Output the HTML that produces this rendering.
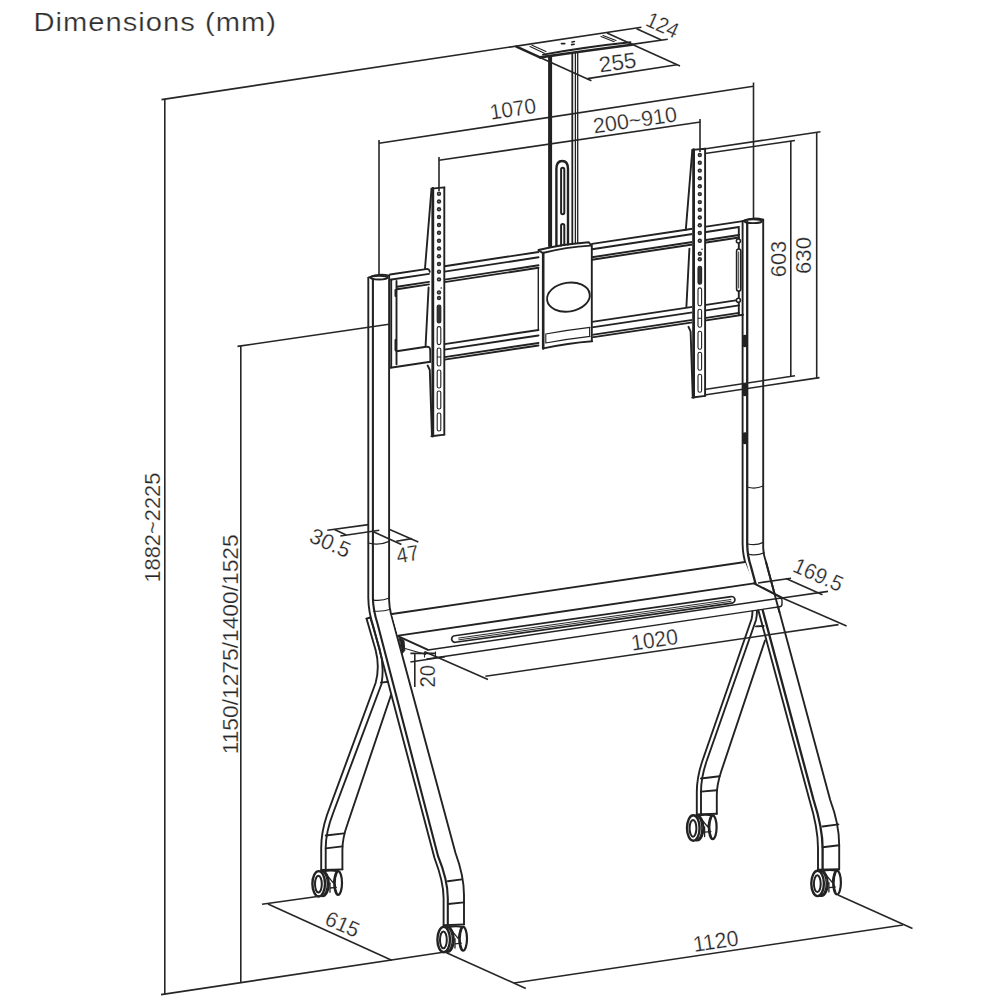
<!DOCTYPE html>
<html><head><meta charset="utf-8"><title>Dimensions</title>
<style>
html,body{margin:0;padding:0;background:#fff;}
body{width:1000px;height:1000px;overflow:hidden;position:relative;}
svg{position:absolute;left:0;top:0;display:block;}
text{font-family:"Liberation Sans",sans-serif;fill:#262626;stroke:#fff;stroke-width:0.25px;}
</style></head><body>
<svg width="1000" height="1000" viewBox="0 0 1000 1000">
<defs>
<g id="wheel">
  <ellipse cx="19.4" cy="-0.8" rx="3.9" ry="11.9" fill="#fff" stroke="#222" stroke-width="2.2"/>
  <path d="M18.6,-11.8 Q14.2,-0.8 18.6,10.4" fill="none" stroke="#222" stroke-width="1.3"/>
  <path d="M4.5,-12.2 Q11,-14.2 19.2,-12.6" fill="none" stroke="#222" stroke-width="2"/>
  <path d="M7.2,-10 L14.4,-1.2 L17.6,-10.6 M11.4,4.2 L17.6,3.6 M11.3,-1 V8.5" fill="none" stroke="#222" stroke-width="1.3"/>
  <ellipse cx="3.9" cy="0" rx="6.2" ry="12.4" fill="#fff" stroke="#222" stroke-width="2.2"/>
  <ellipse cx="2.5" cy="0" rx="6.2" ry="12.5" fill="#fff" stroke="#222" stroke-width="1.5"/>
  <ellipse cx="0" cy="0" rx="6.3" ry="12.7" fill="#fff" stroke="#222" stroke-width="2.4"/>
  <ellipse cx="-0.3" cy="0.3" rx="3.4" ry="8.4" fill="none" stroke="#222" stroke-width="2"/>
</g>
</defs>

<!-- ===== TITLE ===== -->
<text transform="scale(1.1,1)" x="30.4" y="30.6" font-size="26.5" textLength="220.5" lengthAdjust="spacing" style="fill:#2e2e2e;stroke-width:0.25px">Dimensions (mm)</text>

<!-- ===== STRUCTURE ===== -->
<g id="structure" fill="none" stroke="#222" stroke-width="1.9" stroke-linejoin="round" stroke-linecap="round">
  <!-- back legs -->
  <g id="backlegs">
    <path d="M366.5,618.6 L375.6,650 Q380,667 375.6,683 L327,815 Q321.2,832 321.2,848 V870"/>
    <path d="M370.3,617.5 L379.6,649 Q384.5,666 381.5,684 L333.5,812 Q325.7,832 325.7,848 V870"/>
    <path d="M366.5,618.6 L370.3,617.5"/>
    <path d="M381,682.6 L388,681.7"/>
    <path d="M391,695 L347.5,824 Q342.4,838 342.4,850 V869.4"/>
    <path d="M321.2,870 L342.4,869.4 M325.7,835.5 L344,833.4 M325.7,848.4 L342.4,846.4"/>
    <path d="M752.4,610.8 Q752.6,614.5 751.6,619 L702,762 Q696.8,778 696.8,792 V814.4"/>
    <path d="M756.9,610.8 Q757.1,615 756,620 L706.3,762 Q701,778 701,792 V814.4"/>
    <path d="M765,640.5 L721,772 Q716.8,785 716.8,795 V813.8"/>
    <path d="M696.8,814.4 L716.8,813.8 M701,778.5 L719.6,776.2 M701,791.6 L716.8,790.2 M756,626.4 L763.6,626"/>
  </g>
  <!-- pole -->
  <g id="pole">
    <path d="M550.1,56.5 V246" stroke-width="4"/>
    <path d="M572.3,50 V244" stroke-width="1.8"/><path d="M575.4,49.5 V244 M577.7,49 V243.5" stroke-width="1.3"/>
    <path d="M556.4,246 V169 Q556.4,161 562.2,161 Q568,161 568,169 V245" stroke-width="2.4"/>
    <rect x="561.1" y="167.8" width="3.2" height="46.4" rx="1.6" fill="#fff" stroke-width="2"/>
    <path d="M561.1,246 V225.6 Q561.1,224 562.7,224 Q564.3,224 564.3,225.6 V246" stroke-width="2" fill="#fff"/>
  </g>
  <!-- ceiling plate -->
  <g id="plate">
    <path d="M516.4,46.6 L607,33 L631.8,44.8 Q588,50.5 540,57.4 Z" fill="#fff" stroke="none"/>
    <path d="M516.4,46.6 L540,57.4" stroke-width="2.6"/>
    <path d="M540,57.4 Q588,50.5 631.8,44.8" stroke-width="2.6"/>
    <path d="M543,54.6 Q588,46.5 630.5,42.2"/>
    <path d="M530,46.4 L544.4,53.2 M532,45.2 L546,51.6" stroke-width="1.1"/>
    <path d="M601,36.4 L614.2,41.8 M603,35.4 L616,40.6" stroke-width="1.1"/>
    <path d="M561.4,43.6 H564.8 M572,42 L574.4,41.5 M571.6,44.6 L574.2,44.2" stroke-width="1.6"/>
  </g>
  <!-- rails -->
  <g id="rails">
    <path d="M390.0,274.5 L426,269.1 Q429.4,268.6 429.8,271.8 M444.5,266.3 L538.5,252.0 M592.0,243.9 L692.5,228.7 M704.5,226.9 L743.0,221.1"/>
    <path d="M390.0,279.8 L429.0,273.9 M444.5,271.6 L538.5,257.3 M592.0,249.2 L692.5,234.0 M704.5,232.2 L739.0,227.0"/>
    <path d="M397.0,286.8 L429.0,281.9 M444.5,279.6 L538.5,265.3 M592.0,257.2 L692.5,242.0 M704.5,240.2 L739.0,235.0"/>
    <path d="M397.0,289.3 L429.0,284.4 M444.5,282.1 L538.5,267.8 M592.0,259.7 L692.5,244.5 M704.5,242.7 L739.0,237.5"/>
    <path d="M396.5,351.3 L426.2,346.8 Q430,346.2 430.2,350.1 L430.4,361.7 M444.5,344.1 L538.5,330.0 M592.0,321.9 L692.5,306.9 M704.5,305.1 L739.0,299.9"/>
    <path d="M444.5,349.6 L538.5,335.5 M592.0,327.4 L692.5,312.4 M704.5,310.6 L739.0,305.4"/>
    <path d="M444.5,357.1 L538.5,343.0 M592.0,334.9 L692.5,319.9 M704.5,318.1 L739.0,312.9"/>
    <path d="M390.5,367.7 L430.4,361.7 M444.5,359.6 L538.5,345.5 M592.0,337.4 L692.5,322.4 M704.5,320.6 L743.0,314.8"/>
    <!-- end plates -->
    <path d="M391.2,279.8 V367.2 M396.5,281 V364.2"/>
    <path d="M395.4,290 V296 M395.4,340 V350" stroke-width="1.8"/>
    <path d="M738.8,228.5 V314.5"/>
    <rect x="736.6" y="249" width="4.2" height="42" rx="2.1" fill="#fff" stroke-width="1.6"/><path d="M738.7,252 V288" stroke-width="0.9"/>
    <circle cx="738.4" cy="241" r="2" fill="#fff" stroke-width="1.6"/>
    <circle cx="738.4" cy="300.3" r="2" fill="#fff" stroke-width="1.6"/>
    <path d="M538.3,268.5 V330.2" stroke-width="1.4"/>
  </g>
  <!-- brackets -->
<g id="bracket">
  <path d="M431.5,188.6 L444.5,187.4 L444.5,434.6 L431.2,436.2 Z" fill="#fff" stroke="none"/>
  <path d="M432.8,188.4 V436" stroke-width="2.8"/>
  <path d="M444.3,187.4 V434.8 M431.5,188.6 L444.5,187.4 M431.4,436.2 L444.5,434.6"/>
  <g fill="#2a2a2a" stroke="none">
    <circle cx="439" cy="193.7" r="2.2"/>
    <circle cx="439" cy="201.5" r="2.2"/>
    <circle cx="439" cy="209.3" r="2.2"/>
    <circle cx="439" cy="217.0" r="2.2"/>
    <circle cx="439" cy="225.0" r="2.2"/>
    <circle cx="439" cy="232.8" r="2.2"/>
    <circle cx="439" cy="240.8" r="2.2"/>
    <circle cx="439" cy="248.5" r="2.2"/>
    <circle cx="439" cy="256.2" r="2.2"/>
    <circle cx="439" cy="264.0" r="2.2"/>
    <circle cx="439" cy="271.7" r="2.2"/>
    <circle cx="439" cy="279.4" r="2.2"/>
    <circle cx="439" cy="292.4" r="2.2"/>
    <circle cx="439" cy="298.0" r="2.2"/>
    <circle cx="441.2" cy="288" r="0.8"/>
  </g>
  <g fill="#fff" stroke="none" opacity="0.7"><circle cx="439" cy="193.7" r="0.6"/><circle cx="439" cy="201.5" r="0.6"/><circle cx="439" cy="209.3" r="0.6"/><circle cx="439" cy="217.0" r="0.6"/><circle cx="439" cy="225.0" r="0.6"/><circle cx="439" cy="232.8" r="0.6"/><circle cx="439" cy="240.8" r="0.6"/><circle cx="439" cy="248.5" r="0.6"/><circle cx="439" cy="256.2" r="0.6"/><circle cx="439" cy="264.0" r="0.6"/><circle cx="439" cy="271.7" r="0.6"/><circle cx="439" cy="279.4" r="0.6"/><circle cx="439" cy="292.4" r="0.6"/><circle cx="439" cy="298.0" r="0.6"/></g>
  <g stroke="#222" stroke-width="1.1">
    <rect x="437.2" y="305.0" width="3.6" height="18.0" rx="1.8" fill="#333"/>
    <rect x="437.2" y="326.6" width="3.6" height="18.0" rx="1.8" fill="#fff"/>
    <rect x="437.2" y="348.0" width="3.6" height="18.0" rx="1.8" fill="#fff"/>
    <rect x="437.2" y="370.0" width="3.6" height="18.0" rx="1.8" fill="#fff"/>
    <rect x="437.2" y="391.0" width="3.6" height="18.0" rx="1.8" fill="#fff"/>
    <rect x="437.2" y="413.0" width="3.6" height="18.0" rx="1.8" fill="#fff"/>
    <path d="M437.4,357 H440.6"/>
  </g>
  <path d="M431.5,189 L425,268.5 M428.6,287.5 L425.6,345.5 M427.7,365.5 L429.8,370 L431.9,434.5"/>
</g>
  <use href="#bracket" transform="translate(260.8,-38.7)"/>
  <!-- clamp -->
  <g id="clamp">
    <path d="M538.4,250 L588.8,242.2 L591,243.5 L592.4,341.2 Q568,343 543.2,348.4 L542.4,253.5 Z" fill="#fff" stroke="none"/>
    <path d="M538.4,250 Q563,244 588.8,242.2 L590.8,245 M538.4,250 L542.6,253 Q566,247 590.6,245.6"/>
    <path d="M543.2,253 V348.4" stroke-width="2.6"/>
    <path d="M591.8,244.8 V341.2 M543.2,348.4 Q568,343 592.2,341.2"/>
    <path d="M545.6,334 Q568,330 590,327.4 M545.6,343 Q568,339 590,336.4 M545.8,334 V343 M589.6,327.6 V336.4" stroke-width="1.1"/>
    <ellipse cx="568.4" cy="297.1" rx="21.5" ry="14.4" transform="rotate(-9 568.4 297.1)"/>
  </g>
  <!-- uprights + front legs -->
  <g id="uprights">
    <path d="M368.3,277.6 V598 Q368.5,612 373.2,626 L434.5,858 Q443.6,882 443.6,898 V925.2"/>
    <path d="M372.9,279.5 V598 Q373.1,610 377.6,624 L438,856 Q447.8,880 447.8,898 V925" stroke-width="2.1"/>
    <path d="M389.1,275.6 V600 Q389.3,607 390.8,613 L455.5,853 Q464,876 464,895 V924.5"/>
    <path d="M368.6,277.6 Q378,273 389.3,275.6"/>
    <ellipse cx="379" cy="277.6" rx="8.6" ry="1.9"/>
    <path d="M443.6,925.2 L464,924.4 M447.8,881.2 L461.8,879.4 M448.2,904 L464,902.4"/>
    <path d="M368.3,543 Q379,546 389.1,541.4 M372.4,599.8 Q381,601.5 389.3,598 M373.4,611 Q382,612 390.6,609.2" stroke-width="1.2"/>

    <path d="M742.6,221.2 V544 Q742.8,556 746.4,566 L809.5,800 Q818,828 818,848 V869.6"/>
    <path d="M747.2,222.2 V544 Q747.4,556 750.8,566 L813.6,800 Q822.6,828 822.6,848 V869.4" stroke-width="2.3"/>
    <path d="M763.2,219.6 V548 Q763.4,555 766,562 L830.2,800 Q839.2,824 839.2,845 V869.2"/>
    <path d="M742.6,221.2 Q753,216.5 763.2,219.6"/>
    <ellipse cx="753.2" cy="221.2" rx="8.8" ry="1.9"/>
    <path d="M818,869.6 L839.2,869.2 M822.6,826.5 L838.4,824.4 M822.6,847.2 L839.2,845.2"/>
    <path d="M747.2,487 Q755,489.5 763.2,486 M747.8,544 Q756,546 763.3,542.4 M749.6,554.4 Q757,556 764.2,552.8" stroke-width="1.2"/>
    <path d="M745,337.5 V344.5 M745,386 V393.5 M745,435 V441.5" stroke-width="5.5" stroke-linecap="round"/>
  </g>
  <!-- shelf -->
  <g id="shelf">
    <path d="M392,614 L745,562 L754,584 L781.8,597.8 L782,606 L426,658.2 L424.8,651.6 L398.4,637.2 Z" fill="#fff" stroke="none"/>
    <path d="M392,614 L745,562"/>
    <path d="M398.4,635.6 L754,583.4"/>
    <path d="M398.4,636.4 L427.5,649.6 M754,583.4 L781.8,597.8" stroke-width="2.1"/><path d="M399.5,638 L404,640.5 L404.8,650.5 L402.2,653.5 Z" fill="#222" stroke-width="1"/>
    <path d="M428,650 L779.6,598.2 Q782,598 782,600.5 V604 Q782,606.6 779.6,606.8 L427,659" stroke-width="1.4"/>
    <rect x="-143" y="-3.3" width="286" height="6.6" rx="3.3" transform="translate(593.3,619.4) rotate(-8.06)" fill="#fff" stroke-width="1.7"/>
    <path d="M-136,-0.4 H139 M-136,1.4 H139" transform="translate(593.3,619.4) rotate(-8.06)" stroke-width="0.9"/>
    <path d="M766,562 L779.4,612"/>
  </g>
  <!-- wheels -->
  <use href="#wheel" transform="translate(318.7,883.8)"/>
  <use href="#wheel" transform="translate(443.7,939.6)"/>
  <use href="#wheel" transform="translate(693.3,828)"/>
  <use href="#wheel" transform="translate(817.6,883.4)"/>
</g>

<!-- ===== DIMENSION LINES ===== -->
<g id="dims" fill="none" stroke="#262626" stroke-width="1.6" stroke-linecap="butt">
  <path d="M161.5,99.6 L641.4,27.2"/>
  <path d="M164.8,99 V994.8"/>
  <path d="M161,994.6 L444.8,952"/>
  <path d="M240.8,346 V982.6"/>
  <path d="M237.5,346.4 L389,324.2"/>
  <!-- 1070 -->
  <path d="M379,143.3 L753.5,86.3"/>
  <path d="M379,140 V276"/>
  <path d="M753.5,82.5 V219"/>
  <!-- 200~910 -->
  <path d="M439,160.2 L700.5,122"/>
  <path d="M439,157 V191"/>
  <path d="M700,119 V152"/>
  <!-- 630 -->
  <path d="M704,149 L820.5,131.8"/>
  <path d="M816.7,132 V378.5"/>
  <path d="M704.5,395 L819.5,377.6"/>
  <!-- 603 -->
  <path d="M705,153.5 L795,140.5"/>
  <path d="M790.8,140.8 V376"/>
  <path d="M704.5,389.5 L795,375.8"/>
  <!-- 124 -->
  <path d="M636.6,28.8 L661.4,40"/>
  <path d="M631.8,44.4 L667.8,39.2"/>
  <!-- 255 -->
  <path d="M540,57.4 L591.4,80.8"/>
  <path d="M607,33 L680,66"/>
  <path d="M587.5,78.6 L677,64.8"/>
  <!-- 30.5 / 47 -->
  <path d="M327.3,530.2 L368.5,524.6"/>
  <path d="M340.3,536 L379.3,530.2"/>
  <path d="M334.5,529.5 L346.2,535"/>
  <path d="M372.8,531.5 L401.4,544.5"/>
  <path d="M389.7,529.5 L418.3,541.9"/>
  <path d="M396.2,541.2 L411.8,538.6"/>
  <!-- 169.5 -->
  <path d="M758,583 L791,578.2"/>
  <path d="M782,598 L828,591.4"/>
  <path d="M786,578.6 L822.5,594.8"/>
  <!-- 1020 -->
  <path d="M424.8,651.8 L488,679.4"/>
  <path d="M781.8,597.8 L846.6,626"/>
  <path d="M485.4,676.3 L838.5,624.6"/>
  <!-- 20 -->
  <path d="M410.4,653.4 H436 M410.4,662 L445,656.8 M414.8,653 V687"/><path d="M424.5,651.5 V657.5 M435.5,651.5 V657.5 M405,648.5 L426,654.5" stroke-width="1.1"/>
  <!-- 615 -->
  <path d="M262,904.2 L321,896"/>
  <path d="M268,904 L391.7,960.2"/>
  <!-- 1120 -->
  <path d="M444.8,952 L525.8,988.4"/>
  <path d="M838,895 L912.5,928.5"/>
  <path d="M514,983 L903,925"/>
</g>

<!-- ===== DIMENSION TEXT ===== -->
<g font-size="21.5">
  <text transform="translate(160.3,527.6) rotate(-90)" text-anchor="middle" font-size="22.5" textLength="110" lengthAdjust="spacingAndGlyphs">1882~2225</text>
  <text transform="translate(237.5,644.3) rotate(-90)" text-anchor="middle" font-size="22.5" textLength="220" lengthAdjust="spacingAndGlyphs">1150/1275/1400/1525</text>
  <text transform="translate(514,116.3) rotate(-8.7)" text-anchor="middle" textLength="46.5" lengthAdjust="spacingAndGlyphs">1070</text>
  <text transform="translate(636,127.4) rotate(-8.3)" text-anchor="middle" textLength="84.5" lengthAdjust="spacingAndGlyphs">200~910</text>
  <text transform="translate(618.6,69.8) rotate(-8)" text-anchor="middle" font-size="22" textLength="37.5" lengthAdjust="spacingAndGlyphs">255</text>
  <text transform="translate(659.6,32) rotate(24)" text-anchor="middle" font-size="22" textLength="33" lengthAdjust="spacingAndGlyphs">124</text>
  <text transform="translate(786,259) rotate(-90)" text-anchor="middle" font-size="22" textLength="36.6" lengthAdjust="spacingAndGlyphs">603</text>
  <text transform="translate(811,255.5) rotate(-90)" text-anchor="middle" font-size="22" textLength="37" lengthAdjust="spacingAndGlyphs">630</text>
  <text transform="translate(327.2,549.8) rotate(24)" text-anchor="middle" font-size="22" textLength="42" lengthAdjust="spacingAndGlyphs">30.5</text>
  <text transform="translate(408.8,561.6) rotate(-9.5)" text-anchor="middle" font-size="22" textLength="22.5" lengthAdjust="spacingAndGlyphs">47</text>
  <text transform="translate(815.2,581.6) rotate(24)" text-anchor="middle" font-size="22" textLength="52" lengthAdjust="spacingAndGlyphs">169.5</text>
  <text transform="translate(655.6,647.2) rotate(-8.5)" text-anchor="middle" font-size="22" textLength="47.2" lengthAdjust="spacingAndGlyphs">1020</text>
  <text transform="translate(434.8,676.3) rotate(-90)" text-anchor="middle" font-size="22" textLength="22.5" lengthAdjust="spacingAndGlyphs">20</text>
  <text transform="translate(339.5,931) rotate(24)" text-anchor="middle" textLength="35" lengthAdjust="spacingAndGlyphs">615</text>
  <text transform="translate(716.8,948.6) rotate(-8.5)" text-anchor="middle" font-size="22" textLength="45.6" lengthAdjust="spacingAndGlyphs">1120</text>
</g>
</svg>
</body></html>
